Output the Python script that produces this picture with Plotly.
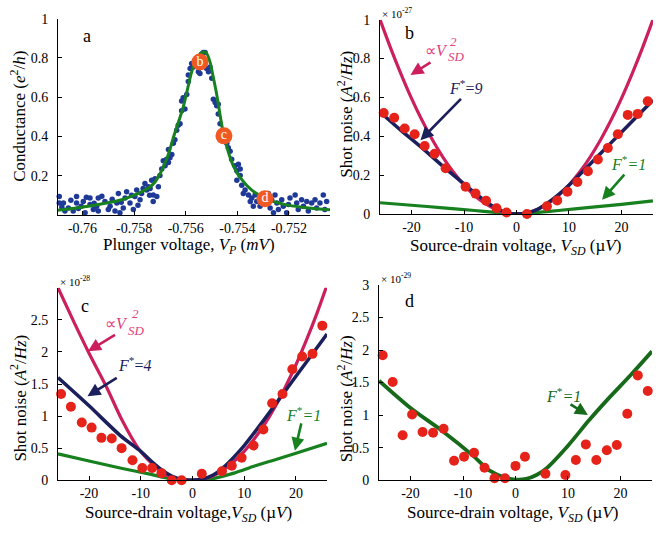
import plotly.graph_objects as go

FONT = "Liberation Serif, Times New Roman, serif"

# ---------------- Panel a data ----------------
a_dots_x = [-0.76090, -0.76090, -0.76074, -0.76068, -0.76055, -0.76036, -0.76023, -0.76023, -0.76016, -0.75997,
            -0.75990, -0.75971, -0.75971, -0.75958, -0.75945, -0.75939, -0.75939, -0.75913, -0.75900, -0.75893,
            -0.75874, -0.75867, -0.75861, -0.75855, -0.75842, -0.75835, -0.75829, -0.75816, -0.75803, -0.75797,
            -0.75790, -0.75777, -0.75771, -0.75758, -0.75751, -0.75745, -0.75732, -0.75726,
            -0.76080, -0.76045, -0.76005, -0.75985, -0.75955, -0.75925, -0.75885, -0.75850, -0.75810, -0.75785,
            -0.75765, -0.75740,
            -0.75738, -0.75726, -0.75712, -0.75706, -0.75719, -0.75700, -0.75693, -0.75680, -0.75687, -0.75674,
            -0.75667, -0.75661, -0.75654, -0.75667, -0.75648, -0.75642, -0.75635, -0.75629, -0.75622, -0.75616,
            -0.75616, -0.75610, -0.75603, -0.75596, -0.75590, -0.75590, -0.75583, -0.75577, -0.75570, -0.75557,
            -0.75551, -0.75545, -0.75538, -0.75532, -0.75525, -0.75519, -0.75512, -0.75506, -0.75499, -0.75493,
            -0.75486, -0.75480, -0.75474, -0.75474, -0.75467, -0.75461, -0.75441, -0.75435, -0.75428, -0.75422,
            -0.75409, -0.75402, -0.75389,
            -0.75396, -0.75389, -0.75402, -0.75383, -0.75377, -0.75370, -0.75357, -0.75350, -0.75344, -0.75338,
            -0.75331, -0.75325, -0.75312, -0.75305, -0.75293, -0.75280, -0.75273, -0.75267, -0.75260, -0.75254,
            -0.75247, -0.75241, -0.75228, -0.75222, -0.75209, -0.75202, -0.75196, -0.75176, -0.75170, -0.75164,
            -0.75151, -0.75144, -0.75131, -0.75125, -0.75112, -0.75099, -0.75093, -0.75080, -0.75067, -0.75061,
            -0.75054]
a_dots_y = [0.094, 0.061, 0.061, 0.020, 0.036, 0.020, 0.094, 0.061, 0.033, 0.069,
            0.012, 0.053, 0.086, 0.028, 0.045, 0.086, 0.020, 0.069, 0.028, 0.045,
            0.020, 0.061, 0.110, 0.012, 0.036, 0.086, 0.119, 0.061, 0.028, 0.094,
            0.127, 0.078, 0.110, 0.160, 0.127, 0.144, 0.177, 0.069,
            0.040, 0.075, 0.045, 0.090, 0.060, 0.095, 0.080, 0.065, 0.100, 0.050,
            0.135, 0.100,
            0.135, 0.102, 0.094, 0.144, 0.185, 0.201, 0.234, 0.251, 0.276, 0.284,
            0.267, 0.292, 0.308, 0.333, 0.366, 0.383, 0.432, 0.457, 0.465, 0.531,
            0.581, 0.597, 0.540, 0.614, 0.680, 0.713, 0.746, 0.771, 0.754, 0.771,
            0.729, 0.721, 0.820, 0.828, 0.828, 0.746, 0.729, 0.754, 0.697, 0.589,
            0.573, 0.556, 0.564, 0.515, 0.465, 0.416, 0.366, 0.342, 0.325, 0.284,
            0.251, 0.226, 0.201,
            0.259, 0.234, 0.177, 0.152, 0.110, 0.127, 0.102, 0.069, 0.086, 0.045,
            0.102, 0.069, 0.045, 0.086, 0.061, 0.110, 0.036, 0.078, 0.012, 0.102,
            0.061, 0.028, 0.078, 0.045, 0.012, 0.053, 0.086, 0.102, 0.061, 0.028,
            0.078, 0.045, 0.069, 0.020, 0.061, 0.078, 0.036, 0.061, 0.102, 0.028,
            0.069]
a_fit_x = [-0.76095, -0.75978, -0.75848, -0.75784, -0.75738, -0.75719, -0.75674, -0.75643, -0.75610,
           -0.75577, -0.75560, -0.75545, -0.75532, -0.75520, -0.75506, -0.75493, -0.75480, -0.75454,
           -0.75416, -0.75389, -0.75344, -0.75280, -0.75215, -0.75151, -0.75060, -0.75041]
a_fit_y = [0.024, 0.045, 0.078, 0.110, 0.144, 0.168, 0.284, 0.415, 0.548,
           0.729, 0.790, 0.820, 0.830, 0.825, 0.780, 0.700, 0.614, 0.416,
           0.251, 0.190, 0.127, 0.078, 0.053, 0.040, 0.028, 0.027]
a_mark_x = [-0.75545, -0.75452, -0.75293]
a_mark_y = [0.779, 0.403, 0.083]
a_mark_lbl = ["b", "c", "d"]
a_xticks = [-0.76, -0.758, -0.756, -0.754, -0.752]
a_xtick_lbl = ["-0.76", "-0.758", "-0.756", "-0.754", "-0.752"]
a_yticks = [0.2, 0.4, 0.6, 0.8, 1]
a_ytick_lbl = ["0.2", "0.4", "0.6", "0.8", "1"]

# ---------------- Panel b data (x 1e-27) ----------------
b_dots_x = [-25.3, -23.3, -21.3, -19.4, -17.5, -15.6, -13.5, -9.7, -7.8, -5.8, -3.8, -1.9,
            2.0, 5.8, 7.75, 9.7, 11.6, 13.6, 15.5, 17.4, 19.3, 21.2, 23.1, 25.0]
b_dots_y = [0.52, 0.495, 0.44, 0.41, 0.35, 0.31, 0.235, 0.14, 0.105, 0.068, 0.03, 0.008,
            0.0, 0.04, 0.07, 0.115, 0.165, 0.22, 0.28, 0.34, 0.41, 0.51, 0.515, 0.58]
b_sq_x = [-26, -24, -22, -20, -18, -16, -14, -12, -10, -8, -6, -4, -2, 0,
          2, 4, 6, 8, 10, 12, 14, 16, 18, 20, 22, 24, 26]
b_sq_y = [1.0, 0.855, 0.72, 0.595, 0.482, 0.381, 0.292, 0.215, 0.149, 0.095, 0.054, 0.024, 0.006, 0.0,
          0.006, 0.024, 0.054, 0.095, 0.149, 0.215, 0.292, 0.381, 0.482, 0.595, 0.72, 0.855, 1.0]
b_f9_x = [-26, -22, -18, -14, -10, -8, -6, -4, -2, 0, 2, 4, 6, 8, 10, 14, 18, 22, 26]
b_f9_y = [0.525, 0.43, 0.34, 0.245, 0.155, 0.11, 0.068, 0.032, 0.008, 0.0,
          0.006, 0.024, 0.058, 0.10, 0.148, 0.256, 0.366, 0.476, 0.585]
b_f1_x = [-26, -20, -14, -8, -4, -2, 0, 2, 4, 8, 14, 20, 26]
b_f1_y = [0.058, 0.045, 0.032, 0.018, 0.008, 0.003, 0.001, 0.003, 0.008, 0.018, 0.034, 0.05, 0.068]

# ---------------- Panel c data (x 1e-28) ----------------
c_dots_x = [-25.4, -23.5, -21.4, -19.5, -17.6, -15.6, -13.7, -11.6, -9.7, -7.8, -6.0, -4.0, -2.1,
            1.8, 5.7, 7.6, 9.5, 11.8, 13.7, 15.4, 17.4, 19.3, 21.2, 23.2, 25.1]
c_dots_y = [1.345, 1.145, 0.90, 0.82, 0.66, 0.65, 0.50, 0.31, 0.19, 0.19, 0.11, 0.0, 0.0,
            0.10, 0.14, 0.226, 0.35, 0.54, 0.79, 1.20, 1.345, 1.73, 1.93, 1.97, 2.41]
c_sq_x = [-26, -23, -20, -16.6, -13.7, -10.5, -8, -6, -4, -2, 0,
          2, 4, 6, 8, 10, 12, 14, 16, 18, 20, 22, 24, 26]
c_sq_y = [3.0, 2.48, 1.98, 1.45, 0.95, 0.5, 0.27, 0.13, 0.04, 0.006, 0.0,
          0.018, 0.07, 0.16, 0.29, 0.45, 0.65, 0.88, 1.15, 1.46, 1.80, 2.18, 2.59, 3.04]
c_f4_x = [-26, -20, -14, -10, -8, -6, -4, -2, 0, 2, 4, 6, 8, 10, 14, 18, 22, 26]
c_f4_y = [1.6, 1.16, 0.70, 0.45, 0.30, 0.165, 0.065, 0.012, 0.0,
          0.02, 0.08, 0.20, 0.36, 0.54, 0.96, 1.40, 1.84, 2.28]
c_f1_x = [-26, -20, -14, -8, -5, -3, 0, 2, 4, 8, 12, 16, 20, 26]
c_f1_y = [0.41, 0.30, 0.19, 0.09, 0.035, 0.008, 0.0, 0.003, 0.025, 0.11, 0.22, 0.32, 0.42, 0.575]

# ---------------- Panel d data (x 1e-29) ----------------
d_dots_x = [-25.3, -23.4, -21.5, -19.7, -17.7, -15.7, -13.7, -11.7, -9.8, -7.9, -5.9, -4.0, -2.0,
            0.0, 1.8, 5.7, 9.5, 11.5, 13.4, 15.4, 17.4, 19.3, 21.3, 23.3, 25.2]
d_dots_y = [1.92, 1.51, 0.69, 1.01, 0.74, 0.73, 0.79, 0.30, 0.36, 0.42, 0.19, 0.03, 0.03,
            0.22, 0.36, 0.10, 0.08, 0.31, 0.55, 0.31, 0.46, 0.54, 1.02, 1.61, 1.37]
d_f1_x = [-26, -20, -14, -8, -5, -2, 0, 2, 4, 6, 10, 14, 18, 22, 26]
d_f1_y = [1.53, 1.11, 0.76, 0.37, 0.15, 0.04, 0.01, 0.02, 0.08, 0.19, 0.53, 0.92, 1.28, 1.62, 1.98]

sd_xticks = [-20, -10, 0, 10, 20]
sd_xtick_lbl = ["-20", "-10", "0", "10", "20"]
b_yticks = [0, 0.2, 0.4, 0.6, 0.8, 1]
b_ytick_lbl = ["0", "0.2", "0.4", "0.6", "0.8", "1"]
c_yticks = [0, 0.5, 1, 1.5, 2, 2.5]
c_ytick_lbl = ["0", "0.5", "1", "1.5", "2", "2.5"]
d_yticks = [0, 0.5, 1, 1.5, 2, 2.5, 3]
d_ytick_lbl = ["0", "0.5", "1", "1.5", "2", "2.5", "3"]

# ---------------- styles ----------------
BLUE = "#1f3a96"
GREEN = "#17801f"
DGREEN = "#166a1a"
NAVY = "#1b1f5c"
MAGENTA = "#cc1f5e"
PINK = "#e0407c"
RED = "#e5231b"
ORANGE = "#f05a22"

fig = go.Figure()


def line(x, y, ax, color, width=3.2):
    fig.add_trace(go.Scatter(x=x, y=y, mode="lines", line=dict(color=color, width=width, shape="spline", smoothing=0.8),
                             xaxis="x" + ax, yaxis="y" + ax, hoverinfo="skip", showlegend=False))


def dots(x, y, ax, color, size):
    fig.add_trace(go.Scatter(x=x, y=y, mode="markers", marker=dict(color=color, size=size, line=dict(width=0)),
                             xaxis="x" + ax, yaxis="y" + ax, cliponaxis=False, showlegend=False))


# panel a
dots(a_dots_x, a_dots_y, "", BLUE, 5.5)
line(a_fit_x, a_fit_y, "", GREEN, 3)
fig.add_trace(go.Scatter(x=a_mark_x, y=a_mark_y, mode="markers+text", text=a_mark_lbl,
                         marker=dict(color=ORANGE, size=17, line=dict(width=0)),
                         textposition="middle center", textfont=dict(family=FONT, size=14, color="white"),
                         xaxis="x", yaxis="y", cliponaxis=False, showlegend=False))

# panel b
line(b_f1_x, b_f1_y, "2", GREEN)
line(b_sq_x, b_sq_y, "2", MAGENTA)
line(b_f9_x, b_f9_y, "2", NAVY, 3.5)
dots(b_dots_x, b_dots_y, "2", RED, 10)

# panel c
line(c_f1_x, c_f1_y, "3", GREEN)
line(c_sq_x, c_sq_y, "3", MAGENTA)
line(c_f4_x, c_f4_y, "3", NAVY, 3.5)
dots(c_dots_x, c_dots_y, "3", RED, 10)

# panel d
line(d_f1_x, d_f1_y, "4", DGREEN, 3.8)
dots(d_dots_x, d_dots_y, "4", RED, 10)

tickfont = dict(family=FONT, size=14, color="black")


def xax(domain, rng, tv, tt, anchor):
    return dict(domain=domain, range=rng, anchor=anchor, showline=True, linecolor="black", linewidth=1,
                ticks="inside", ticklen=4, tickcolor="black", tickvals=tv, ticktext=tt,
                showgrid=False, zeroline=False, tickfont=tickfont, fixedrange=True)


def yax(domain, rng, tv, tt, anchor):
    d = xax(domain, rng, tv, tt, anchor)
    d["ticklabelstandoff"] = 6
    return d


fig.update_layout(
    width=668, height=535, margin=dict(l=0, r=0, t=0, b=0),
    paper_bgcolor="white", plot_bgcolor="white",
    font=dict(family=FONT, color="black"),
    xaxis=xax([0.0868, 0.4940], [-0.76095, -0.75041], a_xticks, a_xtick_lbl, "y"),
    yaxis=yax([0.600, 0.9776], [0, 1], a_yticks, a_ytick_lbl, "x"),
    xaxis2=xax([0.5689, 0.9775], [-26, 26], sd_xticks, sd_xtick_lbl, "y2"),
    yaxis2=yax([0.6019, 0.9757], [0, 1], b_yticks, b_ytick_lbl, "x2"),
    xaxis3=xax([0.0868, 0.4895], [-26, 26], sd_xticks, sd_xtick_lbl, "y3"),
    yaxis3=yax([0.0900, 0.4600], [0, 3], c_yticks, c_ytick_lbl, "x3"),
    xaxis4=xax([0.5674, 0.9760], [-26, 26], sd_xticks, sd_xtick_lbl, "y4"),
    yaxis4=yax([0.0900, 0.4655], [0, 3], d_yticks, d_ytick_lbl, "x4"),
)

ann = []


def txt(text, x, y, ax="", size=16, color="black", **kw):
    d = dict(text=text, x=x, y=y, showarrow=False, xanchor="center", yanchor="middle",
             font=dict(family=FONT, size=size, color=color))
    if ax is None:
        d.update(xref="paper", yref="paper")
    else:
        d.update(xref="x" + ax, yref="y" + ax)
    d.update(kw)
    ann.append(d)


def arrow(ax, tail, head, color):
    ann.append(dict(x=head[0], y=head[1], ax=tail[0], ay=tail[1], xref="x" + ax, yref="y" + ax,
                    axref="x" + ax, ayref="y" + ax, text="", showarrow=True, arrowhead=2, arrowsize=1,
                    arrowwidth=2.6, arrowcolor=color))


TS = 17
# axis titles
txt("Conductance (<i>e</i><sup>2</sup>/<i>h</i>)", 0.027, 0.789, None, size=TS, textangle=-90)
txt("Plunger voltage, <i>V<sub>P</sub></i> (<i>mV</i>)", 0.283, 0.541, None, size=TS)
txt("Shot noise (<i>A</i><sup>2</sup>/<i>Hz</i>)", 0.516, 0.794, None, size=TS, textangle=-90)
txt("Source-drain voltage, <i>V<sub>SD</sub></i> (µ<i>V</i>)", 0.771, 0.538, None, size=TS)
txt("Shot noise (<i>A</i><sup>2</sup>/<i>Hz</i>)", 0.027, 0.247, None, size=TS, textangle=-90)
txt("Source-drain voltage,<i>V<sub>SD</sub></i> (µ<i>V</i>)", 0.282, 0.0, None, size=TS,
    yanchor="bottom", yshift=0)
txt("Shot noise (<i>A</i><sup>2</sup>/<i>Hz</i>)", 0.516, 0.247, None, size=TS, textangle=-90)
txt("Source-drain voltage, <i>V<sub>SD</sub></i> (µ<i>V</i>)", 0.767, 0.0, None, size=TS,
    yanchor="bottom", yshift=0)

# panel letters
txt("a", -0.75983, 0.91, "", size=18)
txt("b", -20.3, 0.93, "2", size=18)
txt("c", -20.8, 2.71, "3", size=18)
txt("d", -20.2, 2.75, "4", size=18)

# exponents
txt("× 10<sup>-27</sup>", 0.5689, 0.9757, None, size=11, xanchor="left", yanchor="bottom", yshift=-2)
txt("× 10<sup>-28</sup>", 0.0868, 0.4600, None, size=11, xanchor="left", yanchor="bottom", yshift=-2)
txt("× 10<sup>-29</sup>", 0.5674, 0.4655, None, size=11, xanchor="left", yanchor="bottom", yshift=-2)

# panel b annotations
txt("∝<i>V</i>", -12.6, 0.84, "2", color=PINK, xanchor="right")
txt("<i>2</i>", -12.6, 0.84, "2", size=13, color=PINK, xanchor="left", yshift=9, xshift=-2)
txt("<i>SD</i>", -12.6, 0.84, "2", size=13, color=PINK, xanchor="left", yshift=-6, xshift=-4)
arrow("2", (-16.1, 0.785), (-20.2, 0.715), MAGENTA)
txt("<i>F</i><sup>*</sup>=<i>9</i>", -9.7, 0.655, "2", color=NAVY)
arrow("2", (-10.3, 0.60), (-18.3, 0.38), NAVY)
txt("<i>F</i><sup>*</sup><i>=1</i>", 21.3, 0.26, "2", color=GREEN)
arrow("2", (20.8, 0.21), (16.3, 0.073), GREEN)

# panel c annotations
txt("∝<i>V</i>", -12.1, 2.44, "3", color=PINK, xanchor="right")
txt("<i>2</i>", -12.1, 2.44, "3", size=13, color=PINK, xanchor="left", yshift=10, xshift=0)
txt("<i>SD</i>", -12.1, 2.44, "3", size=13, color=PINK, xanchor="left", yshift=-7, xshift=-4)
arrow("3", (-14.7, 2.28), (-20.2, 2.01), MAGENTA)
txt("<i>F</i><sup>*</sup>=<i>4</i>", -11.3, 1.81, "3", color=NAVY)
arrow("3", (-14.35, 1.61), (-20.3, 1.31), NAVY)
txt("<i>F</i><sup>*</sup><i>=1</i>", 21.4, 1.04, "3", color=GREEN)
arrow("3", (21.1, 0.91), (19.8, 0.46), GREEN)

# panel d annotations
txt("<i>F</i><sup>*</sup><i>=1</i>", 9.1, 1.31, "4", color=DGREEN)
arrow("4", (10.2, 1.18), (13.8, 1.0), DGREEN)

fig.update_layout(annotations=ann)
fig.write_html("out.html")
